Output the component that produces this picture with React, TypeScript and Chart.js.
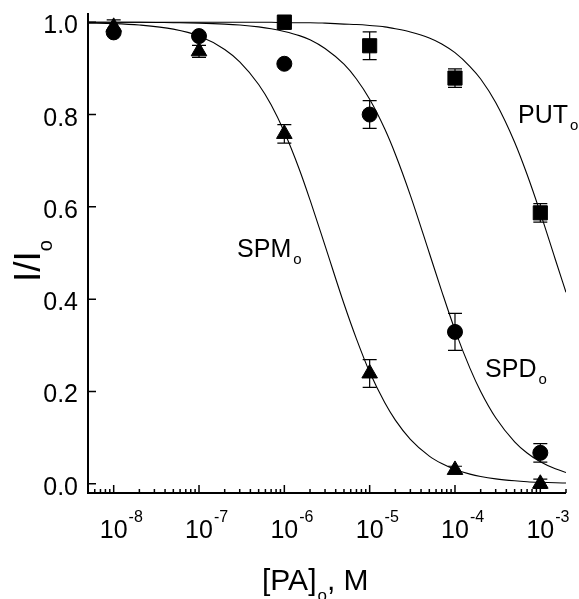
import React, { useEffect, useRef } from 'react';
import { Chart, registerables } from 'chart.js';

Chart.register(...registerables);

// ---- data ----
const doses = [1e-8, 1e-7, 1e-6, 1e-5, 1e-4, 1e-3];
const spmMean = [0.99, 0.937, 0.758, 0.239, 0.03, 0.0];
const spmErr = [0.015, 0.013, 0.02, 0.03, 0.008, 0.01];
const spdMean = [0.978, 0.97, 0.91, 0.8, 0.329, 0.067];
const spdErr = [0.0, 0.0, 0.0, 0.03, 0.04, 0.02];
const putDoses = [1e-6, 1e-5, 1e-4, 1e-3];
const putMean = [1.0, 0.949, 0.879, 0.587];
const putErr = [0.015, 0.03, 0.02, 0.02];

// fitted curves, sampled from the drawn lines
const fitX = [5e-9, 1e-8, 2e-8, 5e-8, 1e-7, 2e-7, 3e-7, 5e-7, 7e-7, 1e-6, 1.5e-6, 2e-6, 3e-6, 5e-6, 7e-6,
  1e-5, 1.5e-5, 2e-5, 3e-5, 5e-5, 7e-5, 1e-4, 1.5e-4, 2e-4, 3e-4, 5e-4, 7e-4, 1e-3, 1.5e-3, 2e-3];
const spmFit = [0.998, 0.997, 0.994, 0.985, 0.97, 0.941, 0.914, 0.865, 0.821, 0.762, 0.681, 0.615, 0.516, 0.39, 0.314,
  0.242, 0.176, 0.138, 0.0964, 0.06, 0.0437, 0.031, 0.0209, 0.0157, 0.0106, 0.0064, 0.0045, 0.0032, 0.0021, 0.0016];
const spdFit = [1.0, 1.0, 1.0, 0.999, 0.998, 0.996, 0.994, 0.99, 0.986, 0.98, 0.971, 0.962, 0.943, 0.909, 0.877,
  0.833, 0.769, 0.714, 0.625, 0.5, 0.417, 0.333, 0.25, 0.2, 0.143, 0.091, 0.0667, 0.0476, 0.0323, 0.0244];
const putFit = [1.0, 1.0, 1.0, 1.0, 1.0, 1.0, 1.0, 1.0, 1.0, 0.999, 0.999, 0.999, 0.998, 0.996, 0.995,
  0.993, 0.99, 0.986, 0.979, 0.966, 0.953, 0.934, 0.904, 0.877, 0.826, 0.74, 0.67, 0.587, 0.486, 0.415];

const xTickExponents = [-8, -7, -6, -5, -4, -3];
const yTickValues = [0, 0.2, 0.4, 0.6, 0.8, 1.0];
const yTickLabels = ['0.0', '0.2', '0.4', '0.6', '0.8', '1.0'];

const FONT = '"Liberation Sans", Arial, Helvetica, sans-serif';

function pts(xs: number[], ys: number[]) {
  return xs.map((x, i) => ({ x, y: ys[i] }));
}

const errorBarPlugin = {
  id: 'errorBars',
  beforeDatasetsDraw(chart: any) {
    const ctx = chart.ctx;
    const xs = chart.scales.x;
    const ys = chart.scales.y;
    ctx.save();
    ctx.strokeStyle = '#000';
    ctx.lineWidth = 1.2;
    chart.data.datasets.forEach((ds: any) => {
      if (!ds.errors) return;
      ds.data.forEach((p: any, i: number) => {
        const e = ds.errors[i];
        if (!e) return;
        const px = xs.getPixelForValue(p.x);
        const y1 = ys.getPixelForValue(p.y + e);
        const y2 = ys.getPixelForValue(p.y - e);
        ctx.beginPath();
        ctx.moveTo(px, y1);
        ctx.lineTo(px, y2);
        ctx.moveTo(px - 7, y1);
        ctx.lineTo(px + 7, y1);
        ctx.moveTo(px - 7, y2);
        ctx.lineTo(px + 7, y2);
        ctx.stroke();
      });
    });
    ctx.restore();
  },
};

function drawWithSub(ctx: any, x: number, y: number, main: string, sub: string, mainSize: number, subSize: number, subDy: number, gap = 1, after = '') {
  ctx.font = `${mainSize}px ${FONT}`;
  ctx.textAlign = 'left';
  ctx.fillText(main, x, y);
  const w = ctx.measureText(main).width;
  ctx.font = `${subSize}px ${FONT}`;
  ctx.fillText(sub, x + w + gap, y + subDy);
  const w2 = ctx.measureText(sub).width;
  if (after) {
    ctx.font = `${mainSize}px ${FONT}`;
    ctx.fillText(after, x + w + gap + w2, y);
  }
}

const axesPlugin = {
  id: 'customAxes',
  afterDraw(chart: any) {
    const ctx = chart.ctx;
    const xs = chart.scales.x;
    const ys = chart.scales.y;
    const a = chart.chartArea;
    ctx.save();
    ctx.strokeStyle = '#000';
    ctx.fillStyle = '#000';
    // axis lines
    ctx.lineWidth = 2;
    ctx.beginPath();
    ctx.moveTo(a.left, a.top);
    ctx.lineTo(a.left, a.bottom);
    ctx.lineTo(a.right, a.bottom);
    ctx.stroke();

    // y ticks (inward)
    ctx.lineWidth = 1.5;
    ctx.beginPath();
    yTickValues.forEach((v) => {
      const py = ys.getPixelForValue(v);
      ctx.moveTo(a.left, py);
      ctx.lineTo(a.left + 8, py);
    });
    ctx.stroke();

    // x ticks (inward), major + minor
    ctx.beginPath();
    for (let e = -9; e <= -3; e++) {
      for (let m = 1; m <= 9; m++) {
        const v = m * Math.pow(10, e);
        if (v < xs.min * 0.999 || v > xs.max * 1.001) continue;
        const px = xs.getPixelForValue(v);
        const len = m === 1 ? 8 : 4;
        ctx.moveTo(px, a.bottom);
        ctx.lineTo(px, a.bottom - len);
      }
    }
    ctx.stroke();

    // y tick labels
    ctx.font = `25px ${FONT}`;
    ctx.textAlign = 'right';
    ctx.textBaseline = 'alphabetic';
    yTickValues.forEach((v, i) => {
      const py = ys.getPixelForValue(v);
      ctx.fillText(yTickLabels[i], a.left - 10, py + 11);
    });

    // x tick labels: 10 with superscript exponent
    xTickExponents.forEach((e) => {
      const px = xs.getPixelForValue(Math.pow(10, e));
      ctx.font = `25px ${FONT}`;
      ctx.textAlign = 'center';
      ctx.fillText('10', px, a.bottom + 45);
      const w = ctx.measureText('10').width;
      ctx.font = `16px ${FONT}`;
      ctx.textAlign = 'left';
      ctx.fillText(String(e), px + w / 2 + 1, a.bottom + 29);
    });

    // x axis title
    ctx.textAlign = 'left';
    drawWithSub(ctx, 262, 590, '[PA]', 'o', 30, 17, 11, 1, ', M');

    // y axis title (rotated)
    ctx.save();
    ctx.translate(40, 282);
    ctx.rotate(-Math.PI / 2);
    drawWithSub(ctx, 0, 0, 'I/I', 'o', 37, 20, 12, 0);
    ctx.restore();

    // curve annotations
    const ann = [
      { t: 'SPM', x: 2.79e-7, y: 0.491 },
      { t: 'PUT', x: 5.47e-4, y: 0.782 },
      { t: 'SPD', x: 2.25e-4, y: 0.231 },
    ];
    ann.forEach((n) => {
      drawWithSub(ctx, xs.getPixelForValue(n.x), ys.getPixelForValue(n.y), n.t, 'o', 25, 15, 7, 2);
    });
    ctx.restore();
  },
};

export default function App() {
  const ref = useRef<HTMLCanvasElement>(null);
  useEffect(() => {
    if (!ref.current) return;
    const chart = new Chart(ref.current, {
      type: 'scatter',
      data: {
        datasets: [
          {
            label: 'SPMo',
            data: pts(doses, spmMean),
            errors: spmErr,
            pointStyle: 'triangle',
            pointRadius: 9,
            backgroundColor: '#000',
            borderColor: '#000',
            borderWidth: 1,
          } as any,
          {
            label: 'SPDo',
            data: pts(doses, spdMean),
            errors: spdErr,
            pointStyle: 'circle',
            pointRadius: 7.5,
            backgroundColor: '#000',
            borderColor: '#000',
            borderWidth: 1,
          } as any,
          {
            label: 'PUTo',
            data: pts(putDoses, putMean),
            errors: putErr,
            pointStyle: 'rect',
            pointRadius: 10,
            backgroundColor: '#000',
            borderColor: '#000',
            borderWidth: 1,
          } as any,
          {
            label: 'SPM fit',
            data: pts(fitX, spmFit),
            showLine: true,
            pointRadius: 0,
            borderColor: '#000',
            borderWidth: 1.1,
            cubicInterpolationMode: 'monotone',
          } as any,
          {
            label: 'SPD fit',
            data: pts(fitX, spdFit),
            showLine: true,
            pointRadius: 0,
            borderColor: '#000',
            borderWidth: 1.1,
            cubicInterpolationMode: 'monotone',
          } as any,
          {
            label: 'PUT fit',
            data: pts(fitX, putFit),
            showLine: true,
            pointRadius: 0,
            borderColor: '#000',
            borderWidth: 1.1,
            cubicInterpolationMode: 'monotone',
          } as any,
        ],
      },
      options: {
        responsive: false,
        animation: false,
        devicePixelRatio: 1,
        layout: { padding: { left: 88, right: 13, top: 13, bottom: 106 } },
        plugins: {
          legend: { display: false },
          tooltip: { enabled: false },
        },
        scales: {
          x: { type: 'logarithmic', min: 5e-9, max: 2e-3, display: false },
          y: { type: 'linear', min: -0.02, max: 1.02, display: false },
        },
      },
      plugins: [errorBarPlugin, axesPlugin],
    } as any);
    return () => chart.destroy();
  }, []);
  return (
    <div style={{ position: 'absolute', left: 0, top: 0, width: 579, height: 599, background: '#fff' }}>
      <canvas ref={ref} width={579} height={599} style={{ display: 'block' }} />
    </div>
  );
}
